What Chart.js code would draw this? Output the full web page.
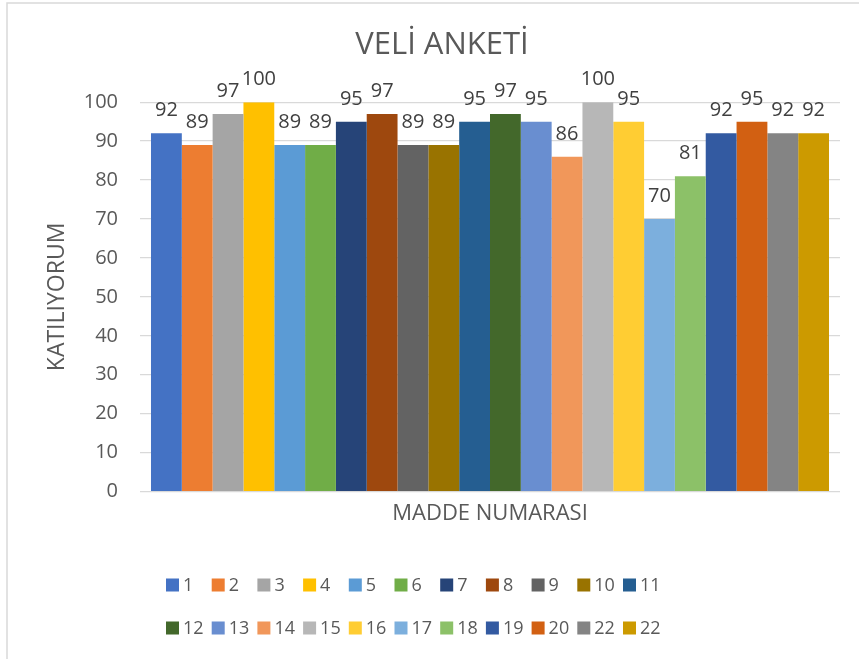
<!DOCTYPE html>
<html>
<head>
<meta charset="utf-8">
<script src="https://cdn.jsdelivr.net/npm/chart.js@4/dist/chart.umd.min.js"></script>
<style>
  html, body { margin: 0; padding: 0; background: #fff; }
  #wrap { width: 859px; height: 659px; }
</style>
</head>
<body>
<div id="wrap"><canvas id="veliChart" width="859" height="659"></canvas></div>
<script>
const itemLabels = ['1', '2', '3', '4', '5', '6', '7', '8', '9', '10', '11',
  '12', '13', '14', '15', '16', '17', '18', '19', '20', '22', '22'];
const itemValues = [92, 89, 97, 100, 89, 89, 95, 97, 89, 89, 95,
  97, 95, 86, 100, 95, 70, 81, 92, 95, 92, 92];
const itemColors = ['#4472C4', '#ED7D31', '#A5A5A5', '#FFC000', '#5B9BD5', '#70AD47',
  '#264478', '#9E480E', '#636363', '#997300', '#255E91', '#43682B', '#698ED0',
  '#F1975A', '#B7B7B7', '#FFCD33', '#7CAFDD', '#8CC168', '#335AA1', '#D26012',
  '#848484', '#CC9A00'];
const yTicks = [0, 10, 20, 30, 40, 50, 60, 70, 80, 90, 100];

const textColor = '#595959';
const fontFamily = '"Open Sans", "Noto Sans", sans-serif';

// white background + frame (only left and top edges are visible in the crop)
const framePlugin = {
  id: 'frame',
  beforeDraw(chart) {
    const c = chart.ctx;
    c.save();
    c.fillStyle = '#fff';
    c.fillRect(0, 0, chart.width, chart.height);
    c.strokeStyle = '#D9D9D9';
    c.lineWidth = 1.5;
    c.beginPath();
    c.moveTo(7, chart.height);
    c.lineTo(7, 3);
    c.lineTo(chart.width, 3);
    c.stroke();
    c.restore();
  }
};

// value labels above each bar
const valueLabels = {
  id: 'valueLabels',
  afterDatasetsDraw(chart) {
    const c = chart.ctx;
    c.save();
    c.font = '20px ' + fontFamily;
    c.fillStyle = '#404040';
    c.textAlign = 'center';
    c.textBaseline = 'alphabetic';
    chart.data.datasets.forEach((ds, i) => {
      const meta = chart.getDatasetMeta(i);
      meta.data.forEach((bar, j) => {
        c.fillText(ds.data[j], bar.x, bar.y - 17);
      });
    });
    c.restore();
  }
};

// Excel-like legend: fixed grid of 11 columns
const gridLegend = {
  id: 'gridLegend',
  afterDraw(chart) {
    const c = chart.ctx;
    const cols = 11, x0 = 166, step = 45.7, rowY = [585, 628], box = 13;
    c.save();
    c.font = '18px ' + fontFamily;
    c.textBaseline = 'middle';
    c.textAlign = 'left';
    chart.data.datasets.forEach((ds, i) => {
      const x = x0 + (i % cols) * step;
      const y = rowY[Math.floor(i / cols)];
      c.fillStyle = ds.backgroundColor;
      c.fillRect(x, y - box / 2, box, box);
      c.fillStyle = textColor;
      c.fillText(ds.label, x + 17, y + 1);
    });
    c.restore();
  }
};

const ctx = document.getElementById('veliChart').getContext('2d');
const veliChart = new Chart(ctx, {
  type: 'bar',
  data: {
    labels: [''],
    datasets: itemLabels.map((lbl, i) => ({
      label: lbl,
      data: [itemValues[i]],
      backgroundColor: itemColors[i],
      borderWidth: 0,
      barPercentage: 1,
      categoryPercentage: 0.9686
    }))
  },
  options: {
    responsive: false,
    animation: false,
    layout: { padding: { left: 44, right: 19, top: 0, bottom: 132 } },
    plugins: {
      legend: { display: false },
      tooltip: { enabled: false },
      title: {
        display: true,
        text: 'VELİ ANKETİ',
        color: textColor,
        font: { family: fontFamily, size: 31, weight: 'normal' },
        padding: { top: 27, bottom: 38 }
      }
    },
    scales: {
      x: {
        grid: { display: false, drawTicks: false },
        border: { display: false },
        ticks: { display: false },
        title: {
          display: true,
          text: 'MADDE NUMARASI',
          color: textColor,
          font: { family: fontFamily, size: 22 },
          padding: { top: 9, bottom: 0 }
        }
      },
      y: {
        min: 0,
        max: 100,
        afterBuildTicks(axis) { axis.ticks = yTicks.map(v => ({ value: v })); },
        afterFit(axis) { axis.width = 96; },
        grid: { color: '#D9D9D9', lineWidth: 1.3, drawTicks: false },
        border: { display: false },
        ticks: {
          color: textColor,
          padding: 22,
          font: { family: fontFamily, size: 20 }
        },
        title: {
          display: true,
          text: 'KATILIYORUM',
          color: textColor,
          font: { family: fontFamily, size: 23 },
          padding: { top: 0, bottom: 10 }
        }
      }
    }
  },
  plugins: [framePlugin, valueLabels, gridLegend]
});
</script>
</body>
</html>
